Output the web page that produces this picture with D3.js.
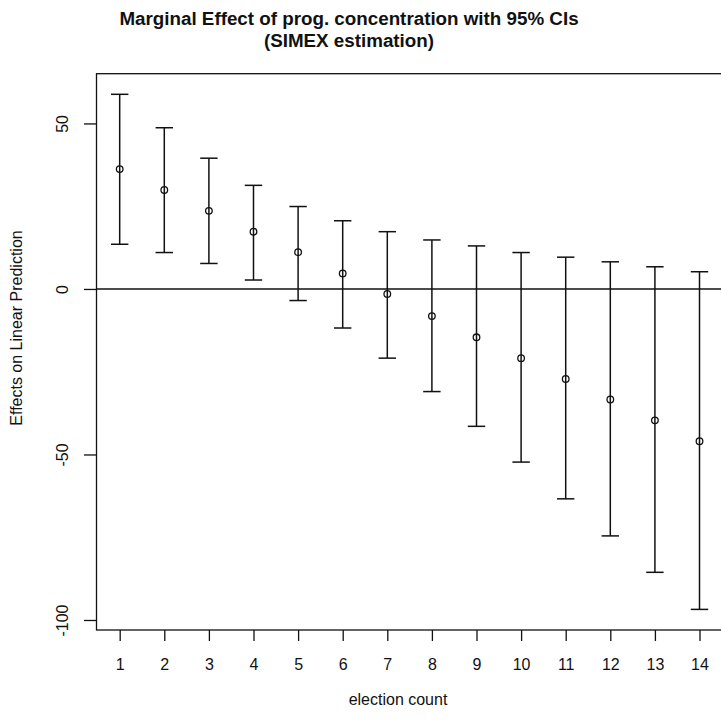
<!DOCTYPE html>
<html>
<head>
<meta charset="utf-8">
<script src="https://cdn.jsdelivr.net/npm/d3@7"></script>
<style>
  html, body { margin: 0; padding: 0; background: #fff; }
  svg { display: block; font-family: "Liberation Sans", Arial, sans-serif; }
</style>
</head>
<body>
<svg id="chart" width="721" height="725"></svg>
<script>
// Election count on the x axis
const electionCount = [1, 2, 3, 4, 5, 6, 7, 8, 9, 10, 11, 12, 13, 14];
// Marginal effect point estimates
const effect = [36.2, 29.9, 23.6, 17.3, 11.1, 4.7, -1.5, -8.2, -14.6, -20.9, -27.2, -33.4, -39.7, -46.0];
// 95% confidence interval bounds
const upper = [58.8, 48.7, 39.5, 31.3, 24.9, 20.6, 17.3, 14.8, 13.0, 11.0, 9.6, 8.2, 6.7, 5.2];
const lower = [13.5, 11.0, 7.7, 2.7, -3.5, -11.8, -20.9, -31.0, -41.5, -52.3, -63.4, -74.6, -85.6, -96.8];
// Axis tick values
const yTicks = [50, 0, -50, -100];
const xTicks = electionCount;

const titleLines = ["Marginal Effect of prog. concentration with 95% CIs", "(SIMEX estimation)"];
const xLabel = "election count";
const yLabel = "Effects on Linear Prediction";

const rows = electionCount.map((x, i) => ({ x, est: effect[i], lo: lower[i], hi: upper[i] }));

const svg = d3.select("#chart");
const plot = { left: 96.5, right: 722.7, top: 73.7, bottom: 630 };
const baseFont = 16;
const fontFamily = "Liberation Sans, Arial, sans-serif";

// R-style 4% padding around the data range
function padded(min, max) {
  const d = (max - min) * 0.04;
  return [min - d, max + d];
}
const xDom = padded(d3.min(electionCount), d3.max(electionCount));
const yDom = padded(d3.min(lower), d3.max(upper));

const x = d3.scaleLinear().domain(xDom).range([plot.left, plot.right]);
const y = d3.scaleLinear().domain(yDom).range([plot.bottom, plot.top]);

const ink = "#111";

// Title
svg.append("g").selectAll("text").data(titleLines).join("text")
  .attr("x", 349)
  .attr("y", (d, i) => 25 + i * 21.5)
  .attr("text-anchor", "middle")
  .attr("font-size", 18.8)
  .attr("font-weight", "bold")
  .attr("fill", ink)
  .text(d => d);

// Plot frame
svg.append("rect")
  .attr("x", plot.left).attr("y", plot.top)
  .attr("width", plot.right - plot.left).attr("height", plot.bottom - plot.top)
  .attr("fill", "none").attr("stroke", ink).attr("stroke-width", 1.3);

// Axes
const xAxis = d3.axisBottom(x).tickValues(xTicks).tickSize(11).tickPadding(18).tickFormat(d3.format("d"));
const gx = svg.append("g").attr("transform", `translate(0,${plot.bottom})`).call(xAxis);
gx.select(".domain").remove();
gx.selectAll(".tick line").attr("stroke", ink).attr("stroke-width", 1.3);
gx.selectAll(".tick text").attr("font-size", baseFont).attr("fill", ink)
  .attr("font-family", fontFamily);

const yAxis = d3.axisLeft(y).tickValues(yTicks).tickSize(12.5).tickFormat(d => d3.format("d")(d).replace("−", "-"));
const gy = svg.append("g").attr("transform", `translate(${plot.left},0)`).call(yAxis);
gy.select(".domain").remove();
gy.selectAll(".tick line").attr("stroke", ink).attr("stroke-width", 1.3);
gy.selectAll(".tick text")
  .attr("font-size", baseFont).attr("fill", ink)
  .attr("font-family", fontFamily)
  .attr("x", null).attr("dy", null).attr("y", 0)
  .attr("text-anchor", "middle")
  .attr("transform", "translate(-28.5,0) rotate(-90)");

// Axis titles
svg.append("text")
  .attr("x", 398).attr("y", 705)
  .attr("text-anchor", "middle")
  .attr("font-size", baseFont).attr("fill", ink)
  .text(xLabel);

svg.append("text")
  .attr("transform", "translate(22,328) rotate(-90)")
  .attr("text-anchor", "middle")
  .attr("font-size", baseFont).attr("fill", ink)
  .text(yLabel);

// Reference line at zero
svg.append("line")
  .attr("x1", plot.left).attr("x2", plot.right)
  .attr("y1", y(0)).attr("y2", y(0))
  .attr("stroke", ink).attr("stroke-width", 1.4);

// Confidence intervals with caps and point estimates
const cap = 8.7;
const g = svg.append("g").attr("stroke", ink).attr("stroke-width", 1.5).attr("fill", "none");
const bars = g.selectAll("g.bar").data(rows).join("g").attr("class", "bar");
bars.append("line")
  .attr("x1", d => x(d.x)).attr("x2", d => x(d.x))
  .attr("y1", d => y(d.lo)).attr("y2", d => y(d.hi));
bars.append("line")
  .attr("x1", d => x(d.x) - cap).attr("x2", d => x(d.x) + cap)
  .attr("y1", d => y(d.hi)).attr("y2", d => y(d.hi));
bars.append("line")
  .attr("x1", d => x(d.x) - cap).attr("x2", d => x(d.x) + cap)
  .attr("y1", d => y(d.lo)).attr("y2", d => y(d.lo));
bars.append("circle")
  .attr("cx", d => x(d.x)).attr("cy", d => y(d.est))
  .attr("r", 3.3).attr("stroke-width", 1.3);
</script>
</body>
</html>
